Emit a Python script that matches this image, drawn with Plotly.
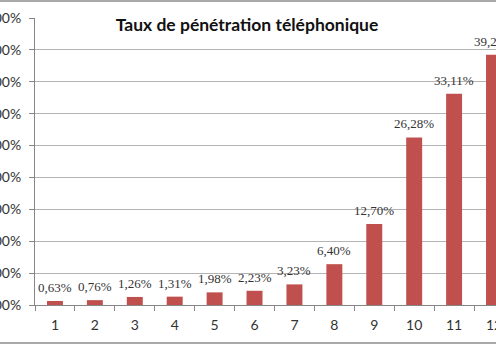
import plotly.graph_objects as go

# Penetration rate (%) per period
categories = ["1", "2", "3", "4", "5", "6", "7", "8", "9", "10", "11", "12"]
rates = [0.63, 0.76, 1.26, 1.31, 1.98, 2.23, 3.23, 6.40, 12.70, 26.28, 33.11, 39.24]
y_ticks = [0, 5, 10, 15, 20, 25, 30, 35, 40, 45]
y_tick_labels = [f"{v},00%" for v in y_ticks]

W, H = 496, 346
M_L, M_R, M_T, M_B = 35, 0, 18, 41

BAR = "#C0504D"
AXIS = "#868686"
GRID = "#b4b4b4"
TXT = "#333333"


def fr(v):
    return f"{v:.2f}".replace(".", ",") + "%"


fig = go.Figure()
fig.add_trace(go.Bar(
    x=categories, y=rates,
    marker=dict(color=BAR, line=dict(width=0)),
    hoverinfo="skip",
))

# value labels above each bar (category axis: position by index)
for i, v in enumerate(rates):
    fig.add_annotation(
        x=i, y=v, xref="x", yref="y", text=fr(v), showarrow=False,
        yanchor="bottom", yshift=4,
        font=dict(family="Liberation Serif", size=13, color=TXT),
    )

# outer chart frame (top and bottom edges)
plot_h = H - M_T - M_B
for py in (1, 343):
    yp = (H - M_B - py) / plot_h
    fig.add_shape(type="line", xref="paper", yref="paper",
                  x0=-0.2, x1=1.2, y0=yp, y1=yp,
                  line=dict(color="#8c8c8c", width=1.5))

fig.update_layout(
    width=W, height=H,
    margin=dict(l=M_L, r=M_R, t=M_T, b=M_B, autoexpand=False),
    paper_bgcolor="white", plot_bgcolor="white",
    bargap=0.6, showlegend=False,
    title=dict(
        text="<b>Taux de pénétration téléphonique</b>",
        x=247 / W, xanchor="center", xref="container",
        y=1 - 25 / H, yanchor="middle", yref="container",
        font=dict(family="Lato", size=17.5, color="#111111"),
    ),
    xaxis=dict(
        type="category", range=[-0.5, 11.05], automargin=False,
        showline=True, linecolor=AXIS, linewidth=1,
        ticks="outside", ticklen=5, tickcolor=AXIS, tickson="boundaries",
        ticklabelstandoff=7,
        showgrid=False, zeroline=False,
        tickfont=dict(family="Lato", size=14, color=TXT),
    ),
    yaxis=dict(
        range=[0, 45], tickvals=y_ticks, ticktext=y_tick_labels,
        automargin=False,
        showline=True, linecolor=AXIS, linewidth=1,
        ticks="outside", ticklen=5, tickcolor=AXIS,
        ticklabelstandoff=5,
        showgrid=True, gridcolor=GRID, gridwidth=1,
        zeroline=False,
        tickfont=dict(family="Lato", size=14, color=TXT),
    ),
)

fig.write_html("out.html")
